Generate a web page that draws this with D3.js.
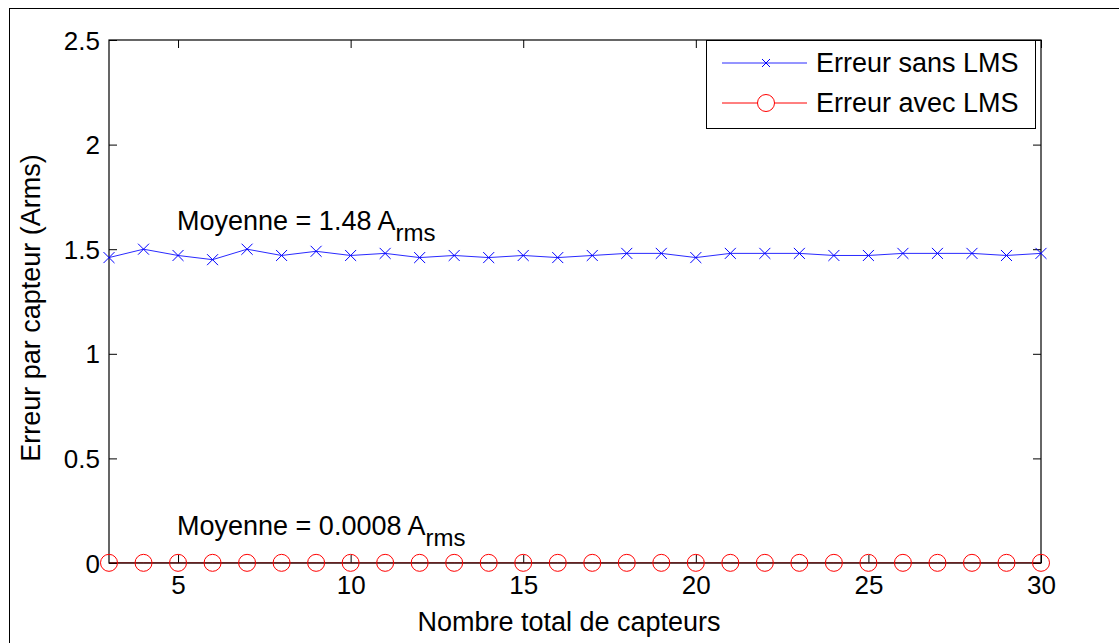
<!DOCTYPE html>
<html><head><meta charset="utf-8">
<script src="https://cdn.jsdelivr.net/npm/d3@7"></script>
<style>body{margin:0;background:#fff;} svg{display:block;font-family:Arial,"Liberation Sans",sans-serif;}</style>
</head><body>
<svg id="c" width="1119" height="643"></svg>
<script>
const xValues = [3,4,5,6,7,8,9,10,11,12,13,14,15,16,17,18,19,20,21,22,23,24,25,26,27,28,29,30];
const sansLMS = [1.46,1.50,1.47,1.45,1.50,1.47,1.49,1.47,1.48,1.46,1.47,1.46,1.47,1.46,1.47,1.48,1.48,1.46,1.48,1.48,1.48,1.47,1.47,1.48,1.48,1.48,1.47,1.48];
const avecLMS = [0.0008,0.0008,0.0008,0.0008,0.0008,0.0008,0.0008,0.0008,0.0008,0.0008,0.0008,0.0008,0.0008,0.0008,0.0008,0.0008,0.0008,0.0008,0.0008,0.0008,0.0008,0.0008,0.0008,0.0008,0.0008,0.0008,0.0008,0.0008];
const xTicks = [5,10,15,20,25,30];
const yTicks = [0,0.5,1,1.5,2,2.5];
const seriesNames = ["Erreur sans LMS","Erreur avec LMS"];
const annotations = [{x:5, main:"Moyenne = 1.48 A", sub:"rms"},{x:5, main:"Moyenne = 0.0008 A", sub:"rms"}];

const svg = d3.select("#c");
const L=109, R=1041, T=40, B=563;
const x = d3.scaleLinear().domain([3,30]).range([L,R]);
const y = d3.scaleLinear().domain([0,2.5]).range([B,T]);

// outer frame
svg.append("rect").attr("x",9.5).attr("y",8.5).attr("width",1200).attr("height",700).attr("fill","none").attr("stroke","#000").attr("stroke-width",1);

const fs = 27, tfs = 26;
// axes
const gx = svg.append("g").attr("transform",`translate(0,${B})`).call(d3.axisBottom(x).tickValues(xTicks).tickSizeInner(-8).tickSizeOuter(0).tickPadding(13));
const gxt = svg.append("g").attr("transform",`translate(0,${T})`).call(d3.axisTop(x).tickValues(xTicks).tickSizeInner(-8).tickSizeOuter(0).tickFormat(""));
const gy = svg.append("g").attr("transform",`translate(${L},0)`).call(d3.axisLeft(y).tickValues(yTicks).tickSizeInner(-8).tickSizeOuter(0).tickPadding(9).tickFormat(d=>d3.format("")(d)));
const gyr = svg.append("g").attr("transform",`translate(${R},0)`).call(d3.axisRight(y).tickValues(yTicks).tickSizeInner(-8).tickSizeOuter(0).tickFormat(""));
[gx,gxt,gy,gyr].forEach(g=>{
  g.selectAll("path").remove();
  g.selectAll("line").attr("stroke","#000");
  g.selectAll("text").attr("font-size",tfs).attr("font-family","Arial, 'Liberation Sans', sans-serif").attr("fill","#000");
});
gx.selectAll("text").attr("dy","0.71em");
gy.selectAll("text").attr("dy","0.35em");

// series lines
const line = d3.line().x((d,i)=>x(xValues[i])).y(d=>y(d));
svg.append("path").datum(avecLMS).attr("d",line).attr("fill","none").attr("stroke","#ff0000").attr("stroke-width",1);
svg.append("path").datum(sansLMS).attr("d",line).attr("fill","none").attr("stroke","#2a2aff").attr("stroke-width",1);

// box
svg.append("rect").attr("x",L).attr("y",T).attr("width",R-L).attr("height",B-T).attr("fill","none").attr("stroke","#000").attr("stroke-width",1.2);

// markers
const xs = 5.5;
svg.append("g").selectAll("path").data(sansLMS).join("path")
  .attr("d",(d,i)=>{const cx=x(xValues[i]), cy=y(d);return `M${cx-xs},${cy-xs}L${cx+xs},${cy+xs}M${cx-xs},${cy+xs}L${cx+xs},${cy-xs}`;})
  .attr("stroke","#0000ff").attr("stroke-width",1).attr("fill","none");
svg.append("g").selectAll("circle").data(avecLMS).join("circle")
  .attr("cx",(d,i)=>x(xValues[i])).attr("cy",d=>y(d)).attr("r",8.5)
  .attr("fill","none").attr("stroke","#ff0000").attr("stroke-width",1);

// annotations
const annY = [230, 535];
annotations.forEach((a,i)=>{
  const t = svg.append("text").attr("x",x(a.x)-1).attr("y",annY[i]).attr("font-size",fs).attr("fill","#000");
  t.append("tspan").text(a.main);
  t.append("tspan").attr("dy",11).attr("font-size",24).text(a.sub);
});

// axis labels
svg.append("text").attr("x",569).attr("y",631).attr("text-anchor","middle").attr("font-size",fs).text("Nombre total de capteurs");
svg.append("text").attr("transform",`translate(40,308) rotate(-90)`).attr("text-anchor","middle").attr("font-size",fs).text("Erreur par capteur (Arms)");

// legend
const lg = svg.append("g");
lg.append("rect").attr("x",706.5).attr("y",40.5).attr("width",329).attr("height",88).attr("fill","#fff").attr("stroke","#000").attr("stroke-width",1);
const ly = [63,103];
lg.append("line").attr("x1",722).attr("x2",807).attr("y1",ly[0]).attr("y2",ly[0]).attr("stroke","#2a2aff");
lg.append("path").attr("d",`M${766-4},${ly[0]-4}L${766+4},${ly[0]+4}M${766-4},${ly[0]+4}L${766+4},${ly[0]-4}`).attr("stroke","#0000ff");
lg.append("line").attr("x1",722).attr("x2",807).attr("y1",ly[1]).attr("y2",ly[1]).attr("stroke","#ff0000");
lg.append("circle").attr("cx",766).attr("cy",ly[1]).attr("r",8.5).attr("fill","#fff").attr("stroke","#ff0000");
seriesNames.forEach((n,i)=>{
  lg.append("text").attr("x",816).attr("y",ly[i]).attr("dy","0.35em").attr("font-size",fs).text(n);
});
</script>
</body></html>
